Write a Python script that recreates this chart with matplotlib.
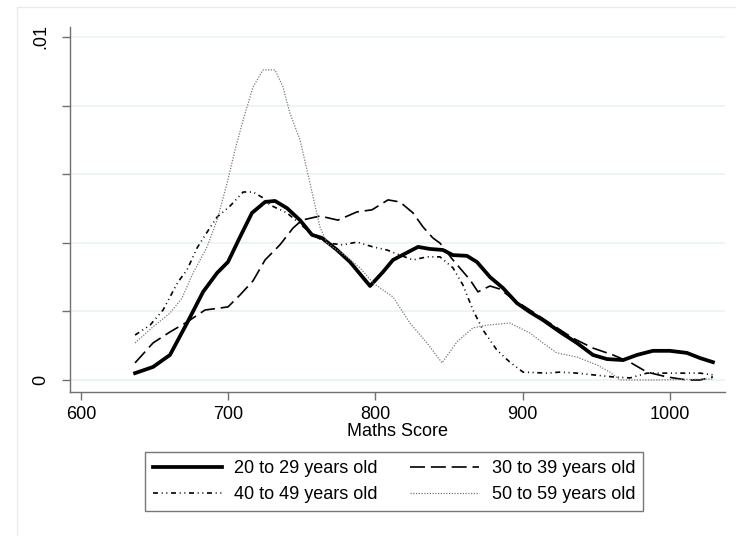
import matplotlib
matplotlib.use("Agg")
import matplotlib.pyplot as plt
from matplotlib.patches import Rectangle

plt.rcParams['font.family'] = ['Liberation Sans', 'DejaVu Sans']

# kernel density estimates of maths score by age group
x_20s = [636.7, 648.9, 660.4, 672.0, 682.9, 692.4, 699.8, 708.0, 716.1, 725.0,
         731.7, 739.9, 748.7, 756.9, 763.7, 773.9, 782.7, 796.3, 805.1, 811.9,
         828.9, 837.0, 845.8, 852.6, 862.1, 868.9, 877.8, 886.6, 896.1, 904.9,
         913.7, 925.3, 936.8, 947.7, 957.2, 968.1, 977.6, 988.4, 1000.0, 1011.5,
         1020.4, 1029.2]
d_20s = [0.20, 0.38, 0.73, 1.66, 2.57, 3.12, 3.44, 4.17, 4.87, 5.19,
         5.22, 5.01, 4.66, 4.23, 4.14, 3.79, 3.44, 2.74, 3.15, 3.50,
         3.88, 3.82, 3.79, 3.64, 3.62, 3.44, 3.00, 2.68, 2.24, 1.98,
         1.75, 1.40, 1.08, 0.73, 0.61, 0.58, 0.73, 0.85, 0.85, 0.79,
         0.64, 0.52]

x_30s = [636.7, 648.9, 660.4, 672.0, 684.2, 699.8, 708.0, 716.8, 725.0, 735.1,
         744.0, 750.1, 762.3, 774.5, 787.4, 797.6, 808.5, 816.6, 825.5, 832.3,
         839.0, 843.8, 852.6, 864.2, 869.6, 877.8, 884.5, 893.4, 904.9, 920.5,
         934.1, 947.7, 961.3, 972.8, 984.4, 997.9, 1011.5, 1020.4, 1029.2]
d_30s = [0.50, 1.08, 1.40, 1.69, 2.04, 2.13, 2.48, 2.89, 3.50, 3.94,
         4.43, 4.66, 4.78, 4.66, 4.90, 4.96, 5.25, 5.19, 4.87, 4.46,
         4.14, 3.99, 3.50, 2.92, 2.57, 2.74, 2.65, 2.36, 2.04, 1.60,
         1.22, 0.93, 0.73, 0.52, 0.23, 0.09, 0.00, 0.00, 0.09]

x_40s = [636.7, 646.9, 655.7, 665.9, 672.0, 678.8, 685.6, 692.4, 701.2, 710.1,
         716.8, 723.6, 728.4, 739.9, 748.7, 757.6, 767.1, 777.9, 787.4, 798.3,
         807.8, 816.6, 825.5, 835.0, 843.8, 852.6, 859.4, 866.2, 873.0, 882.5,
         891.3, 900.2, 916.5, 925.3, 936.8, 947.7, 961.3, 972.8, 984.4, 997.9,
         1011.5, 1020.4, 1029.2]
d_40s = [1.31, 1.60, 2.04, 2.86, 3.21, 3.85, 4.31, 4.75, 5.07, 5.48,
         5.48, 5.31, 5.10, 4.87, 4.55, 4.23, 3.99, 3.94, 4.02, 3.88,
         3.79, 3.64, 3.50, 3.59, 3.59, 3.27, 2.77, 2.04, 1.46, 0.87,
         0.52, 0.23, 0.20, 0.23, 0.20, 0.15, 0.09, 0.06, 0.20, 0.20,
         0.20, 0.20, 0.15]

x_50s = [636.7, 648.9, 660.4, 668.6, 676.1, 685.6, 692.4, 699.2, 704.6, 710.1,
         716.8, 723.6, 731.7, 737.2, 741.9, 748.7, 753.5, 757.6, 762.3, 767.1,
         780.6, 789.5, 798.3, 811.9, 823.4, 835.0, 845.2, 855.3, 866.2, 875.7,
         891.3, 904.9, 913.7, 923.2, 936.8, 950.4, 959.2, 966.0, 988.4, 1029.2]
d_50s = [1.08, 1.55, 1.95, 2.39, 3.12, 3.88, 4.66, 5.74, 6.71, 7.58,
         8.54, 9.04, 9.04, 8.54, 7.78, 7.00, 6.12, 5.34, 4.46, 3.99,
         3.59, 3.27, 2.83, 2.42, 1.66, 1.08, 0.50, 1.11, 1.52, 1.60,
         1.66, 1.37, 1.08, 0.79, 0.67, 0.44, 0.23, 0.00, 0.00, 0.03]

labels = ["20 to 29 years old", "30 to 39 years old",
          "40 to 49 years old", "50 to 59 years old"]
x_ticks = [600, 700, 800, 900, 1000]
y_ticks = [0, 0.002, 0.004, 0.006, 0.008, 0.01]
y_ticklabels = ["0", "", "", "", "", ".01"]

W, H = 736, 536
fig = plt.figure(figsize=(W / 100, H / 100), dpi=100)
fig.patch.set_facecolor('white')

# faint graph-region border
fig.patches.append(Rectangle((17 / W, -0.1), 2, 1 - 7 / H + 0.1, transform=fig.transFigure,
                             fill=False, edgecolor='#E4EEF2', lw=1))

ax = fig.add_axes([70 / W, 1 - 392 / H, (725 - 70) / W, (392 - 27) / H])

scale = 0.001
l1, = ax.plot(x_20s, [v * scale for v in d_20s], color='black', lw=2.7,
              solid_joinstyle='round')
l2, = ax.plot(x_30s, [v * scale for v in d_30s], color='black', lw=1.2,
              dashes=(9, 3.5))
l3, = ax.plot(x_40s, [v * scale for v in d_40s], color='black', lw=1.2,
              dashes=(3, 2.2, 0.6, 2.2, 0.6, 2.2))
l4, = ax.plot(x_50s, [v * scale for v in d_50s], color='#7a7a7a', lw=0.9,
              dashes=(1, 1.2))

ax.set_xlim(592.5, 1037.4)
ax.set_ylim(-0.00035, 0.01029)

ax.set_xticks(x_ticks)
ax.set_yticks(y_ticks)
ax.set_yticklabels(y_ticklabels, rotation=90, va='center')
ax.yaxis.grid(True, color='#EAF2F3', lw=1.2)
ax.xaxis.grid(False)
ax.set_axisbelow(True)

for s in ['top', 'right']:
    ax.spines[s].set_visible(False)
for s in ['left', 'bottom']:
    ax.spines[s].set_color('#707070')
    ax.spines[s].set_linewidth(1)

ax.tick_params(axis='both', direction='out', length=6, width=1, color='#707070',
               labelsize=13, labelcolor='black')
ax.tick_params(axis='x', pad=4)
ax.tick_params(axis='y', pad=9)

ax.set_xlabel("Maths Score", fontsize=13, labelpad=0)

# legend fills row by row in the reference, matplotlib fills by column
leg = ax.legend([l1, l3, l2, l4],
                [labels[0], labels[2], labels[1], labels[3]],
                ncol=2, loc='upper left',
                bbox_to_anchor=(145 / W, 1 - 452 / H), bbox_transform=fig.transFigure,
                borderaxespad=0, frameon=True, fancybox=False, fontsize=13,
                handlelength=3.8, handletextpad=0.7, columnspacing=1.8,
                labelspacing=0.5, borderpad=0.45)
leg.get_frame().set_edgecolor('#555555')
leg.get_frame().set_linewidth(1)

fig.savefig("out.png", dpi=100)
